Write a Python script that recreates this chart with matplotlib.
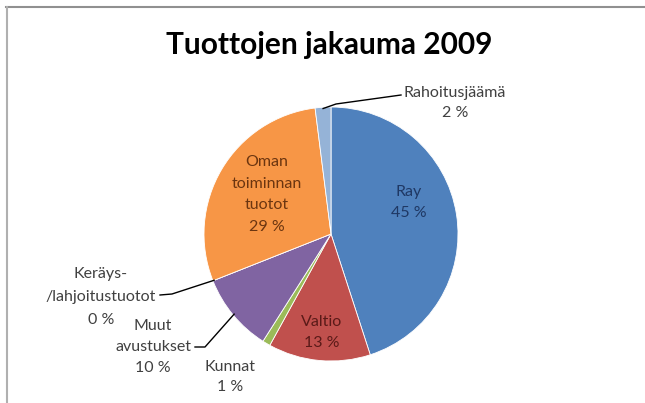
import matplotlib.pyplot as plt
import numpy as np
from matplotlib.lines import Line2D

# Data
categories = ["Ray", "Valtio", "Kunnat", "Muut\navustukset", "Keräys-\n/lahjoitustuotot",
              "Oman\ntoiminnan\ntuotot", "Rahoitusjäämä"]
shares = [45, 13, 1, 10, 0, 29, 2]
pct_labels = ["45 %", "13 %", "1 %", "10 %", "0 %", "29 %", "2 %"]
colors = ["#4F81BD", "#C0504D", "#9BBB59", "#8064A2", "#4BACC6", "#F79646", "#95B3D7"]

plt.rcParams['font.family'] = ['Lato', 'DejaVu Sans']

fig = plt.figure(figsize=(6.45, 4.03), dpi=100)
W, H = 645, 403
cx, cy, R = 331, 234, 127

ax = fig.add_axes([(cx - R) / W, (H - cy - R) / H, 2 * R / W, 2 * R / H])
wedges, _ = ax.pie(shares, colors=colors, startangle=90, counterclock=False, radius=1,
                   wedgeprops=dict(edgecolor="white", linewidth=0.6))
ax.set_xlim(-1, 1)
ax.set_ylim(-1, 1)
ax.set_aspect("equal")
ax.axis("off")

def px(x, y):
    # pixel position -> data coords of the pie axes
    return (x - cx) / R, (cy - y) / R

def edge_point(w, r=1.0):
    a = np.deg2rad((w.theta1 + w.theta2) / 2)
    return r * np.cos(a), r * np.sin(a)

fs = 11.5

# labels inside the slices
inside = {0: ((409, 202.5), "#1F3864"), 1: ((322, 332.5), "#5A1A18"), 5: ((267, 194.5), "#6B3510")}
for i, ((x, y), col) in inside.items():
    tx, ty = px(x, y)
    ax.text(tx, ty, categories[i] + "\n" + pct_labels[i], ha="center", va="center",
            fontsize=fs, color=col, linespacing=1.7)

# labels outside with leader lines (text pos, line points from text side)
outside = {
    6: ((455, 103), [(401, 95), (336, 104)], 1.5),
    4: ((101, 297), [(160, 295), (172, 294)], 1.8),
    3: ((153, 347), [(195, 347), (205, 347)], 1.68),
    2: ((230, 377), [], 1.6),
}
grey = "#404040"
for i, ((x, y), pts, lsp) in outside.items():
    tx, ty = px(x, y)
    ax.text(tx, ty, categories[i] + "\n" + pct_labels[i], ha="center", va="center",
            fontsize=fs, color=grey, linespacing=lsp, clip_on=False)
    if pts:
        line = [px(*p) for p in pts] + [edge_point(wedges[i], 0.99)]
        xs, ys = zip(*line)
        ax.plot(xs, ys, color="black", lw=1.0, clip_on=False)

fig.text(329 / W, 1 - 45 / H, "Tuottojen jakauma 2009", ha="center", va="center",
         fontsize=21.5, fontweight="bold", color="black")

# chart area border (top and left visible)
fig.add_artist(Line2D([6 / W, 1], [1 - 6.5 / H, 1 - 6.5 / H], color="#909090", lw=1.5))
fig.add_artist(Line2D([7 / W, 7 / W], [0, 1 - 6.5 / H], color="#b0b0b0", lw=1.5))

fig.savefig("out.png", dpi=100)
